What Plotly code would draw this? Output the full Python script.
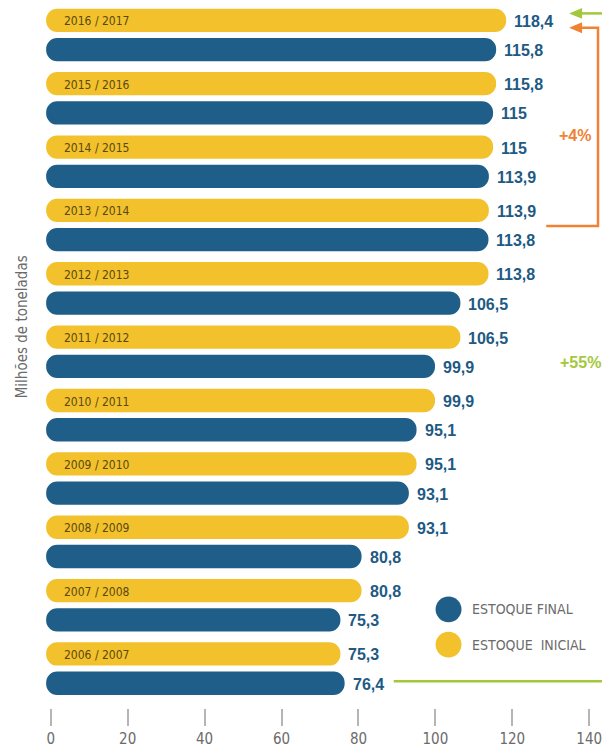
import plotly.graph_objects as go

# ---------------- data ----------------
safras = ["2006 / 2007", "2007 / 2008", "2008 / 2009", "2009 / 2010", "2010 / 2011",
          "2011 / 2012", "2012 / 2013", "2013 / 2014", "2014 / 2015", "2015 / 2016",
          "2016 / 2017"]
estoque_inicial = [75.3, 80.8, 93.1, 95.1, 99.9, 106.5, 113.8, 113.9, 115.0, 115.8, 118.4]
estoque_final = [76.4, 75.3, 80.8, 93.1, 95.1, 99.9, 106.5, 113.8, 113.9, 115.0, 115.8]
x_ticks = [0, 20, 40, 60, 80, 100, 120, 140]
x_tick_labels = ["0", "20", "40", "60", "80", "100", "120", "140"]

# ---------------- style ----------------
YELLOW = "#F2C12B"
BLUE = "#1F5E88"
LABEL_BLUE = "#1E5A84"
GREY = "#6B6B6B"
GREEN = "#A3C83B"
ORANGE = "#F08234"
FONT = "DejaVu Sans Condensed, Liberation Sans, sans-serif"
BOLD_FONT = "Liberation Sans, Arial, sans-serif"

W, H = 602, 748
ML, MR, MT, MB = 40, 0, 0, 34
PW, PH = W - ML - MR, H - MT - MB

ZERO_PX, PX_PER_UNIT = 50.8, 3.86
x_min = -(ZERO_PX - ML) / PX_PER_UNIT
x_max = x_min + PW / PX_PER_UNIT
CAT_PX = 63.9
y_min = -(714 - 674.25) / CAT_PX
y_max = y_min + PH / CAT_PX

OFF, BW = 0.231, 0.368
BAR_PX = BW * CAT_PX
LEFT_EDGE = -1.2


def pxx(x):
    return (x - ML) / PW


def pxy(y):
    return (H - MB - y) / PH


def fmt(v):
    s = f"{v:.1f}"
    if s.endswith(".0"):
        s = s[:-2]
    return s.replace(".", ",")


idx = list(range(len(safras)))
fig = go.Figure()

for vals, color, off, name in [(estoque_inicial, YELLOW, OFF, "ESTOQUE INICIAL"),
                               (estoque_final, BLUE, -OFF, "ESTOQUE FINAL")]:
    ys = [i + off for i in idx]
    fig.add_trace(go.Bar(
        orientation="h", y=ys, x=[v - LEFT_EDGE for v in vals], base=LEFT_EDGE,
        width=BW, marker=dict(color=color, cornerradius=BAR_PX / 2, line=dict(width=0)),
        name=name, showlegend=False, hoverinfo="skip"))

annotations = []
for i, (s, vi, vf) in enumerate(zip(safras, estoque_inicial, estoque_final)):
    annotations.append(dict(x=0, y=i + OFF, xref="x", yref="y", text=s, showarrow=False,
                            xanchor="left", yanchor="middle", xshift=11, yshift=-1,
                            font=dict(family=FONT, size=12, color="#5A4812")))
    annotations.append(dict(x=vi, y=i + OFF, xref="x", yref="y", text=f"<b>{fmt(vi)}</b>",
                            showarrow=False, xanchor="left", yanchor="middle",
                            xshift=6, yshift=-1,
                            font=dict(family=BOLD_FONT, size=16, color=LABEL_BLUE)))
    annotations.append(dict(x=vf, y=i - OFF, xref="x", yref="y", text=f"<b>{fmt(vf)}</b>",
                            showarrow=False, xanchor="left", yanchor="middle",
                            xshift=6, yshift=-1,
                            font=dict(family=BOLD_FONT, size=16, color=LABEL_BLUE)))


def paper_text(x, y, text, size, color, family=FONT, xanchor="center", angle=0):
    return dict(x=pxx(x), y=pxy(y), xref="paper", yref="paper", text=text,
                textangle=angle, showarrow=False, xanchor=xanchor, yanchor="middle",
                font=dict(family=family, size=size, color=color))


annotations += [
    paper_text(22, 330, "Milhões de toneladas", 15, GREY, angle=-90),
    paper_text(472, 614, "ESTOQUE FINAL", 14, GREY, xanchor="left"),
    paper_text(472, 650, "ESTOQUE  INICIAL", 14, GREY, xanchor="left"),
    paper_text(577, 137, "<b>+4%</b>", 16, ORANGE, family=BOLD_FONT),
    paper_text(582, 366, "<b>+55%</b>", 16, GREEN, family=BOLD_FONT),
]


def circle(cx, cy, r, color):
    return dict(type="circle", xref="paper", yref="paper",
                x0=pxx(cx - r), x1=pxx(cx + r), y0=pxy(cy + r), y1=pxy(cy - r),
                fillcolor=color, line=dict(width=0))


def line_path(points, color, width=2.5):
    d = "M " + " L ".join(f"{pxx(a)},{pxy(b)}" for a, b in points)
    return dict(type="path", xref="paper", yref="paper", path=d,
                line=dict(color=color, width=width))


def head(tipx, y, color):
    d = (f"M {pxx(tipx)},{pxy(y)} L {pxx(tipx + 13)},{pxy(y - 5.5)} "
         f"L {pxx(tipx + 13)},{pxy(y + 5.5)} Z")
    return dict(type="path", xref="paper", yref="paper", path=d,
                fillcolor=color, line=dict(width=0))


shapes = [
    circle(450, 614.5, 13, BLUE),
    circle(450, 650, 13, YELLOW),
    line_path([(604, 13.5), (582, 13.5)], GREEN),
    head(571, 13.5, GREEN),
    line_path([(548, 228), (600, 228), (600, 28), (582, 28)], ORANGE),
    head(571, 28, ORANGE),
    line_path([(395, 687), (604, 687)], GREEN),
]

fig.update_layout(
    width=W, height=H,
    margin=dict(l=ML, r=MR, t=MT, b=MB, pad=0),
    paper_bgcolor="white", plot_bgcolor="white",
    barmode="overlay",
    showlegend=False,
    xaxis=dict(range=[x_min, x_max], tickvals=x_ticks, ticktext=x_tick_labels,
               ticks="outside", ticklen=17, tickwidth=1.5, tickcolor="#B5B5B5",
               ticklabeloverflow="allow",
               showgrid=False, zeroline=False, showline=False,
               tickfont=dict(family=FONT, size=15, color=GREY)),
    yaxis=dict(range=[y_min, y_max], visible=False, showgrid=False, zeroline=False),
    annotations=annotations,
    shapes=shapes,
)

fig.write_html(
    "out.html",
    config={"responsive": False, "displayModeBar": False},
    post_script="document.body.style.margin='0';"
                "document.documentElement.style.overflow='hidden';",
)
